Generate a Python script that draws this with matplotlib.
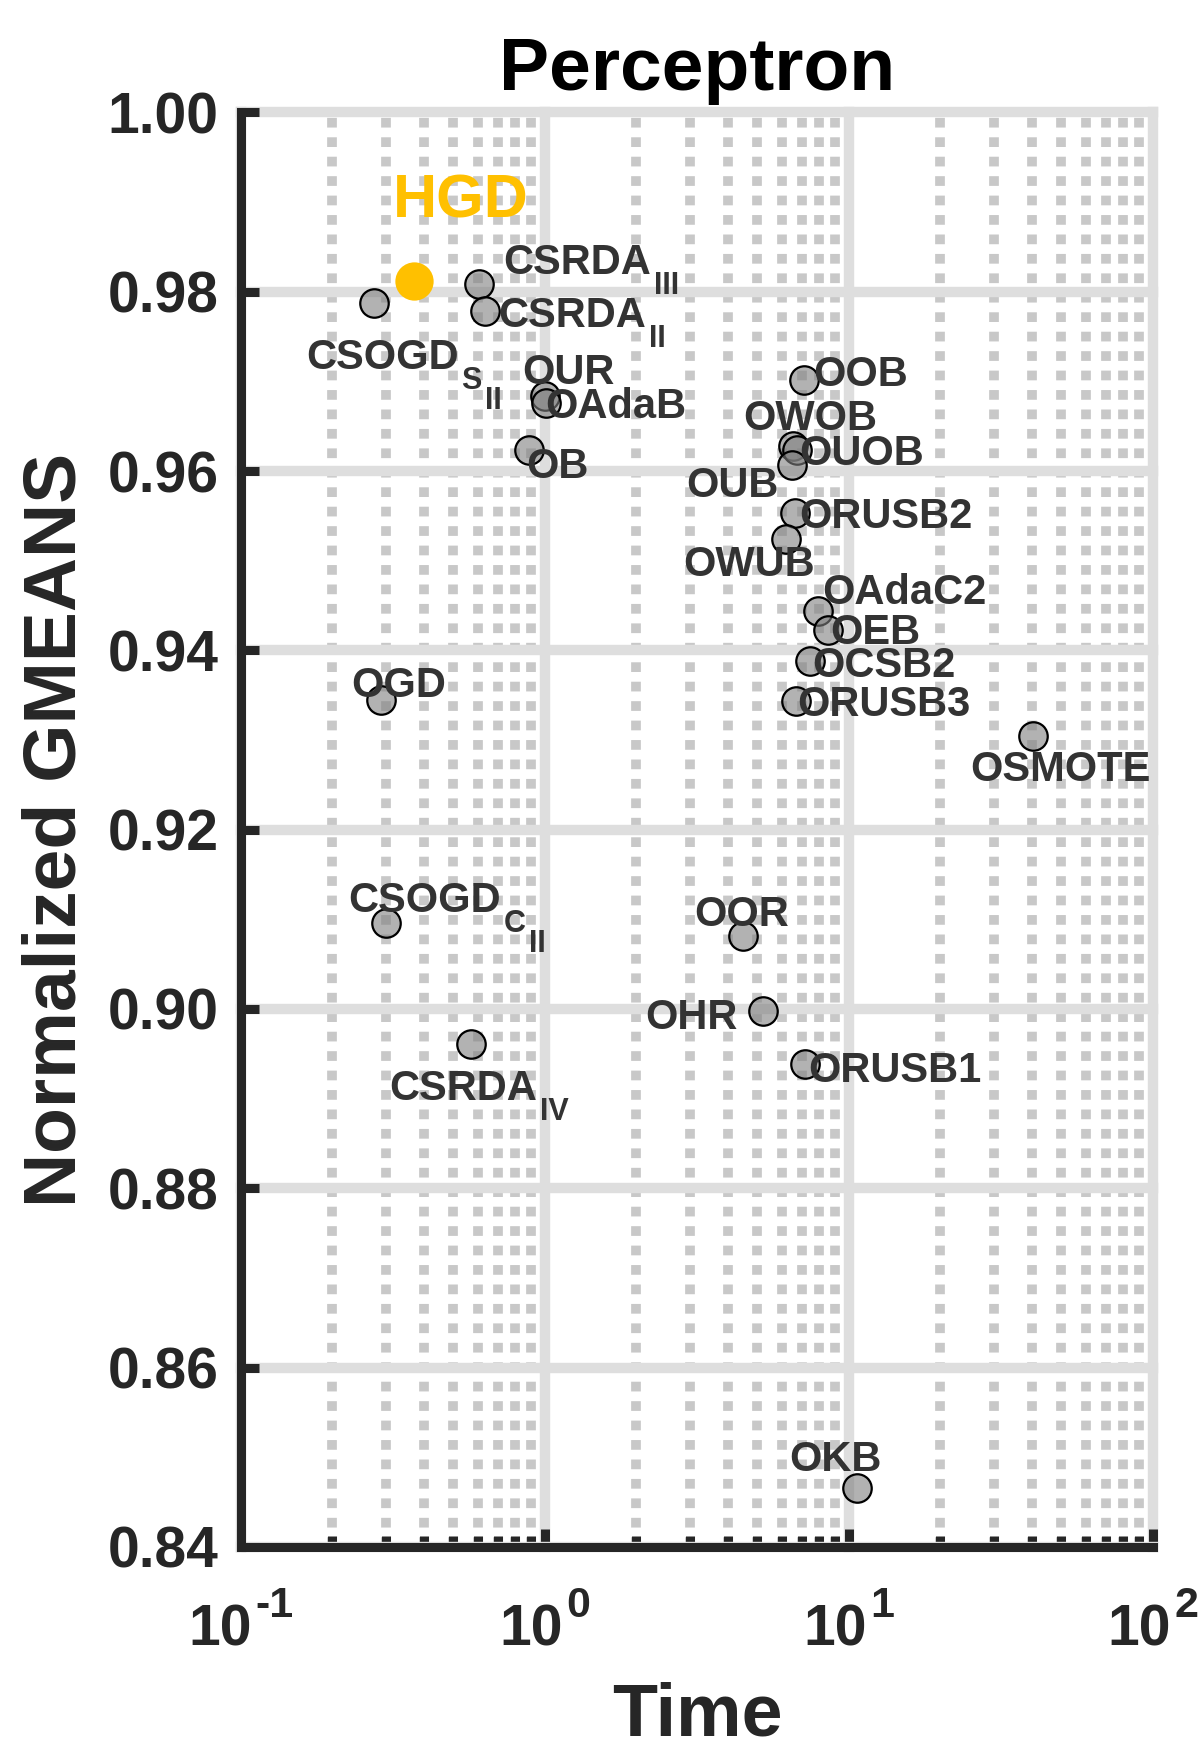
import numpy as np
import matplotlib
matplotlib.use('Agg')
import matplotlib.pyplot as plt
from matplotlib.ticker import LogLocator, NullLocator, NullFormatter, FixedLocator

plt.rcParams['font.family'] = ['Liberation Sans', 'DejaVu Sans']
plt.rcParams['font.weight'] = 'bold'

# --- data ---
methods = ['CSOGD_SII', 'CSRDA_III', 'CSRDA_II', 'OUR', 'OAdaB', 'OB',
           'OOB', 'OWOB', 'OUOB', 'OUB', 'ORUSB2', 'OWUB', 'OAdaC2', 'OEB',
           'OCSB2', 'ORUSB3', 'OSMOTE', 'OGD', 'CSOGD_CII', 'OOR', 'OHR',
           'ORUSB1', 'CSRDA_IV', 'OKB']
names = ['CSOGD', 'CSRDA', 'CSRDA', 'OUR', 'OAdaB', 'OB',
         'OOB', 'OWOB', 'OUOB', 'OUB', 'ORUSB2', 'OWUB', 'OAdaC2', 'OEB',
         'OCSB2', 'ORUSB3', 'OSMOTE', 'OGD', 'CSOGD', 'OOR', 'OHR',
         'ORUSB1', 'CSRDA', 'OKB']
subscripts = {'CSOGD_SII': ['S', 'II'], 'CSRDA_III': ['III'], 'CSRDA_II': ['II'],
              'CSOGD_CII': ['C', 'II'], 'CSRDA_IV': ['IV']}
times = [0.2735, 0.609, 0.634, 1.00, 1.01, 0.884,
         7.13, 6.57, 6.73, 6.48, 6.65, 6.19, 7.93, 8.56,
         7.45, 6.68, 40.4, 0.288, 0.301, 4.49, 5.23,
         7.17, 0.569, 10.66]
gmeans = [0.9787, 0.9809, 0.9779, 0.9684, 0.9676, 0.9623,
          0.9702, 0.9628, 0.9623, 0.9607, 0.9553, 0.9524, 0.9444, 0.9423,
          0.9388, 0.9343, 0.9304, 0.9345, 0.9096, 0.9081, 0.8998,
          0.8939, 0.8961, 0.8466]

hgd_time = 0.372
hgd_gmean = 0.9812

yticks = [0.84, 0.86, 0.88, 0.90, 0.92, 0.94, 0.96, 0.98, 1.00]
xdecades = [-1, 0, 1, 2]

# label placement: (ha, dx px, dy px; dy positive = downward)
label_pos = {
    'CSOGD_SII': ('left', -68, 66), 'CSRDA_III': ('left', 24, -10),
    'CSRDA_II': ('left', 13, 16), 'OUR': ('left', -23, -12),
    'OAdaB': ('left', -1, 15), 'OB': ('left', -2, 28),
    'OOB': ('left', 9, 6), 'OWOB': ('left', -50, -16),
    'OUOB': ('left', 3, 15), 'OUB': ('right', -13, 32),
    'ORUSB2': ('left', 4, 15), 'OWUB': ('right', 29, 37),
    'OAdaC2': ('left', 4, -7), 'OEB': ('left', 2, 14),
    'OCSB2': ('left', 2, 16), 'ORUSB3': ('left', 2, 15),
    'OSMOTE': ('center', 27, 45), 'OGD': ('left', -29, -3),
    'CSOGD_CII': ('left', -38, -11), 'OOR': ('left', -49, -10),
    'OHR': ('right', -26, 18), 'ORUSB1': ('left', 3, 18),
    'CSRDA_IV': ('left', -81, 56), 'OKB': ('left', -68, -17),
}

dpi = 100
px = 72.0 / dpi
fig = plt.figure(figsize=(12, 17.55), dpi=dpi)
ax = fig.add_axes([0.2008, 0.1186, 0.76, 0.8173])

ax.scatter(times, gmeans, s=420, facecolors=[(0.5, 0.5, 0.5, 0.6)],
           edgecolors='black', linewidths=1.6, zorder=3)
ax.scatter([hgd_time], [hgd_gmean], s=760, color='#FFC000', linewidths=0, zorder=3)

texts = {}
for m, lab, t, g in zip(methods, names, times, gmeans):
    ha, dx, dy = label_pos[m]
    texts[m] = ax.annotate(lab, (t, g), xytext=(dx * px, -dy * px), textcoords='offset points',
                           ha=ha, va='baseline', fontsize=30, fontweight='bold',
                           color='#333333', zorder=4)
ax.annotate('HGD', (hgd_time, hgd_gmean), xytext=(46 * px, 64 * px),
            textcoords='offset points', ha='center', va='baseline',
            fontsize=44, fontweight='bold', color='#FFC000', zorder=4)

ax.set_xscale('log')
ax.set_xlim(0.1, 100)
ax.set_ylim(0.84, 1.00)
ax.yaxis.set_major_locator(FixedLocator(yticks))
ax.set_yticklabels(['%.2f' % v for v in yticks])
ax.yaxis.set_minor_locator(NullLocator())
ax.xaxis.set_major_locator(FixedLocator([10.0 ** e for e in xdecades]))
ax.xaxis.set_major_formatter(NullFormatter())
ax.xaxis.set_minor_locator(LogLocator(base=10, subs=np.arange(2, 10)))
ax.xaxis.set_minor_formatter(NullFormatter())

ax.set_axisbelow(True)
ax.grid(True, which='major', color='#dedede', lw=7.5, ls='-')
ax.grid(True, which='minor', axis='x', color='#c8c8c8', lw=7, ls=(0, (1, 1)))
for tk in ax.xaxis.get_major_ticks() + ax.yaxis.get_major_ticks():
    tk.gridline.set_clip_on(False)

for s in ['top', 'right']:
    ax.spines[s].set_visible(False)
for s in ['left', 'bottom']:
    ax.spines[s].set_linewidth(6.5)
    ax.spines[s].set_color('#262626')

ax.tick_params(which='major', direction='in', length=13, width=6.5, color='#262626',
               labelcolor='#262626')
ax.tick_params(which='minor', direction='in', length=8, width=6.5, color='#262626')
ax.tick_params(axis='y', labelsize=41, pad=16)
for lbl in ax.get_yticklabels():
    lbl.set_fontweight('bold')

ax.set_title('Perceptron', fontsize=54, fontweight='bold', color='black', pad=16)
ax.set_xlabel('Time', fontsize=53, fontweight='bold', color='#262626')
ax.xaxis.set_label_coords(0.5, -0.094)
ax.set_ylabel('Normalized GMEANS', fontsize=54, fontweight='bold', color='#262626')
ax.yaxis.set_label_coords(-0.165, 0.5)

# x tick labels: "10" with a large exponent
xtr = ax.get_xaxis_transform()
tick_parts = []
for e in xdecades:
    b = ax.annotate('10', (10.0 ** e, 0), xycoords=xtr, xytext=(0, -99 * px),
                    textcoords='offset points', ha='left', va='baseline',
                    fontsize=41, fontweight='bold', color='#262626')
    x = ax.annotate(str(e), (10.0 ** e, 0), xycoords=xtr, xytext=(0, -70 * px),
                    textcoords='offset points', ha='left', va='baseline',
                    fontsize=31, fontweight='bold', color='#262626')
    tick_parts.append((b, x))

fig.canvas.draw()
r = fig.canvas.get_renderer()
gap = 3
for b, x in tick_parts:
    wb = b.get_window_extent(r).width
    we = x.get_window_extent(r).width
    left = -(wb + gap + we) / 2
    b.set_position((left * px, -99 * px))
    x.set_position(((left + wb + gap) * px, -70 * px))

# subscripts hang below the baseline, each level ~20 px lower
for m, t, g in zip(methods, times, gmeans):
    if m not in subscripts:
        continue
    ha, dx, dy = label_pos[m]
    px0, py0 = ax.transData.transform((t, g))
    prev = texts[m]
    for k, sub in enumerate(subscripts[m]):
        x1 = prev.get_window_extent(r).x1 + gap
        prev = ax.annotate(sub, (t, g), xytext=((x1 - px0) * px, (-dy - 20 * (k + 1)) * px),
                           textcoords='offset points', ha='left', va='baseline',
                           fontsize=22, fontweight='bold', color='#333333', zorder=4)

fig.savefig('out.png', dpi=dpi)
